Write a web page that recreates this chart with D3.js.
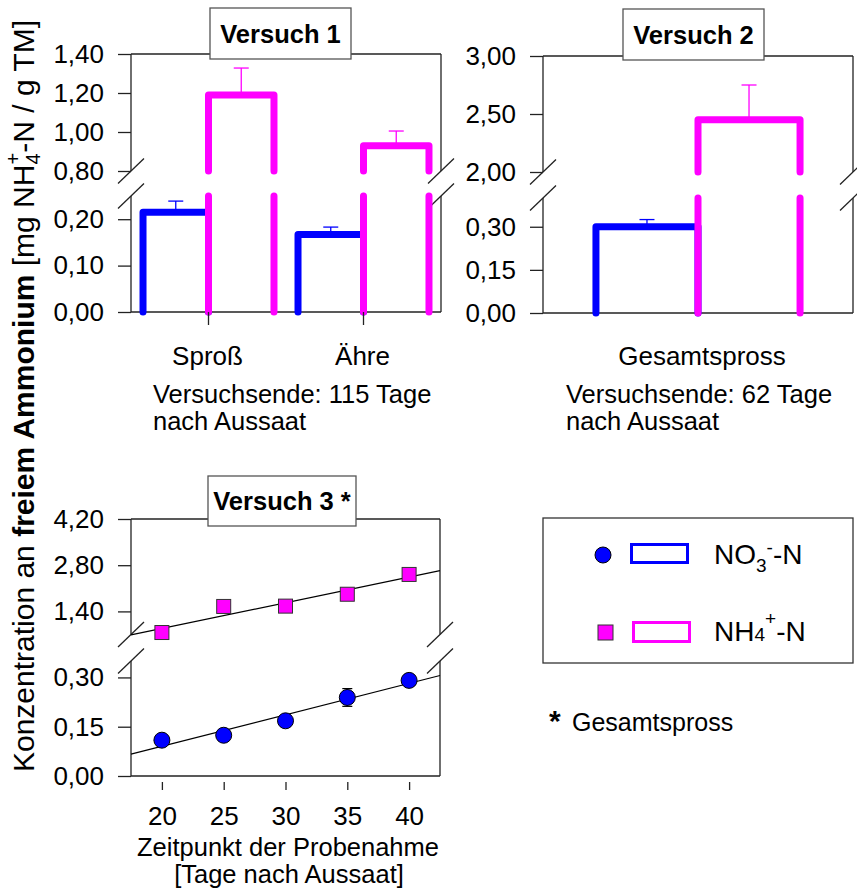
<!DOCTYPE html>
<html>
<head>
<meta charset="utf-8">
<script src="https://cdn.jsdelivr.net/npm/d3@7"></script>
<style>
  body { margin: 0; background: #fff; }
  svg text { font-family: "Liberation Sans", Arial, sans-serif; fill: #000; }
</style>
</head>
<body>
<svg id="chart" width="857" height="892"></svg>
<script>
// ---- data ----
const seriesKeys = ["NO3", "NH4"];

// Versuch 1
const v1Parts = ["Sproß", "Ähre"];
const v1NO3 = [0.215, 0.167];
const v1NO3Err = [0.024, 0.016];
const v1NH4 = [1.19, 0.93];
const v1NH4Err = [0.138, 0.075];
const v1TicksUpper = [0.80, 1.00, 1.20, 1.40];
const v1TicksLower = [0.00, 0.10, 0.20];

// Versuch 2
const v2Parts = ["Gesamtspross"];
const v2NO3 = [0.30];
const v2NO3Err = [0.025];
const v2NH4 = [2.45];
const v2NH4Err = [0.30];
const v2TicksUpper = [2.00, 2.50, 3.00];
const v2TicksLower = [0.00, 0.15, 0.30];

// Versuch 3
const v3Days = [20, 25, 30, 35, 40];
const v3NO3 = [0.109, 0.124, 0.168, 0.239, 0.291];
const v3NO3Err = [0.006, 0.008, 0.008, 0.027, 0.018];
const v3NH4 = [0.76, 1.55, 1.56, 1.92, 2.52];
const v3NH4Err = [0.05, 0.06, 0.05, 0.08, 0.06];
const v3TicksUpper = [1.40, 2.80, 4.20];
const v3TicksLower = [0.00, 0.15, 0.30];

const colors = { NO3: "#0000ff", NH4: "#ff00ff" };
const FS = 26;

const locale = d3.formatLocale({ decimal: ",", thousands: ".", grouping: [3], currency: ["", " €"] });
const fmt2 = locale.format(".2f");

const svg = d3.select("#chart");

// ---- helpers ----
function brokenFrame(p) {
  const g = svg.append("g").attr("stroke", "#222").attr("stroke-width", 1.3).attr("fill", "none");
  const yUpBot = p.upper.range()[0], yLowTop = p.lower.range()[1];
  g.append("line").attr("x1", p.left).attr("x2", p.right).attr("y1", p.top).attr("y2", p.top);
  g.append("line").attr("x1", p.left).attr("x2", p.right).attr("y1", p.bottom).attr("y2", p.bottom);
  [p.left, p.right].forEach(x => {
    g.append("line").attr("x1", x).attr("x2", x).attr("y1", p.top).attr("y2", yUpBot);
    g.append("line").attr("x1", x).attr("x2", x).attr("y1", yLowTop).attr("y2", p.bottom);
    [yUpBot, yLowTop].forEach(y => {
      g.append("line")
        .attr("x1", x - 13).attr("y1", y + 12.5)
        .attr("x2", x + 13).attr("y2", y - 12.5);
    });
  });
}

function yAxes(p, ticksUp, ticksLow) {
  [[p.upper, ticksUp], [p.lower, ticksLow]].forEach(([sc, tv]) => {
    const ax = svg.append("g")
      .attr("transform", `translate(${p.left},0)`)
      .call(d3.axisLeft(sc).tickValues(tv).tickSize(13).tickPadding(14).tickFormat(fmt2));
    ax.select(".domain").remove();
    ax.selectAll("line").attr("stroke", "#222").attr("stroke-width", 1.3);
    ax.selectAll("text").attr("font-size", FS).attr("font-family", "Liberation Sans, Arial, sans-serif");
  });
}

function titleBox(x0, x1, y0, y1, label) {
  svg.append("rect")
    .attr("x", x0).attr("y", y0).attr("width", x1 - x0).attr("height", y1 - y0)
    .attr("fill", "#fff").attr("stroke", "#555").attr("stroke-width", 1.3);
  svg.append("text")
    .attr("x", (x0 + x1) / 2).attr("y", y1 - 16)
    .attr("text-anchor", "middle")
    .attr("font-size", 25.5).attr("font-weight", "bold")
    .text(label);
}

// open bar drawn per axis segment
function barPath(xl, xr, v, sc) {
  const [d0, d1] = sc.domain();
  if (v <= d0) return null;
  const yb = sc(d0);
  if (v >= d1) {
    const yt = sc(d1);
    return `M${xl},${yb}V${yt}M${xr},${yb}V${yt}`;
  }
  const yv = sc(v);
  return `M${xl},${yb}V${yv}H${xr}V${yb}`;
}

function barPanel(p, parts, vals, errs) {
  const x0 = d3.scaleBand().domain(parts).range([p.left, p.right])
    .paddingInner(p.pad).paddingOuter(p.padOuter);
  const x1 = d3.scaleBand().domain(seriesKeys).range([0, x0.bandwidth()]);

  const rows = [];
  parts.forEach((c, i) => seriesKeys.forEach(k => {
    rows.push({ cat: c, key: k, v: vals[k][i], e: errs[k][i] });
  }));

  // error bars
  rows.forEach(d => {
    const sc = d.v > p.upper.domain()[0] ? p.upper : p.lower;
    const cx = x0(d.cat) + x1(d.key) + x1.bandwidth() / 2;
    const g = svg.append("g").attr("stroke", colors[d.key]).attr("stroke-width", 1.3);
    g.append("line").attr("x1", cx).attr("x2", cx).attr("y1", sc(d.v)).attr("y2", sc(d.v + d.e));
    g.append("line").attr("x1", cx - 7.5).attr("x2", cx + 7.5).attr("y1", sc(d.v + d.e)).attr("y2", sc(d.v + d.e));
  });

  // bars (NO3 first so NH4 sits on top)
  seriesKeys.forEach(k => {
    rows.filter(d => d.key === k).forEach(d => {
      const xl = x0(d.cat) + x1(d.key), xr = xl + x1.bandwidth();
      [p.lower, p.upper].forEach(sc => {
        const path = barPath(xl, xr, d.v, sc);
        if (path) {
          svg.append("path").attr("d", path)
            .attr("fill", "none").attr("stroke", colors[k]).attr("stroke-width", 7)
            .attr("stroke-linecap", "round").attr("stroke-linejoin", "round");
        }
      });
    });
  });
  return x0;
}

// ---- Versuch 1 ----
const p1 = {
  left: 131, right: 441, top: 54, bottom: 312, pad: 0.155, padOuter: 0.0775,
  upper: d3.scaleLinear().domain([0.80, 1.40]).range([171, 54]),
  lower: d3.scaleLinear().domain([0, 0.25]).range([312, 196])
};
brokenFrame(p1);
yAxes(p1, v1TicksUpper, v1TicksLower);
const x1Band = barPanel(p1, v1Parts, { NO3: v1NO3, NH4: v1NH4 }, { NO3: v1NO3Err, NH4: v1NH4Err });
const xa1 = svg.append("g").attr("transform", `translate(-1,${p1.bottom})`)
  .call(d3.axisBottom(x1Band).tickSize(13).tickPadding(22));
xa1.select(".domain").remove();
xa1.selectAll("line").attr("stroke", "#222").attr("stroke-width", 1.3).attr("transform", "translate(1,0)");
xa1.selectAll("text").attr("font-size", FS).attr("font-family", "Liberation Sans, Arial, sans-serif");
titleBox(210, 351, 8, 59, "Versuch 1");

svg.append("text").attr("x", 153).attr("y", 403).attr("font-size", 25.5).text("Versuchsende: 115 Tage");
svg.append("text").attr("x", 153).attr("y", 430).attr("font-size", 25.5).text("nach Aussaat");

// ---- Versuch 2 ----
const p2 = {
  left: 543, right: 853, top: 56, bottom: 313, pad: 0.206, padOuter: 0.206,
  upper: d3.scaleLinear().domain([2.00, 3.00]).range([172, 56]),
  lower: d3.scaleLinear().domain([0, 0.40]).range([313, 198])
};
brokenFrame(p2);
yAxes(p2, v2TicksUpper, v2TicksLower);
const x2Band = barPanel(p2, v2Parts, { NO3: v2NO3, NH4: v2NH4 }, { NO3: v2NO3Err, NH4: v2NH4Err });
const xa2 = svg.append("g").attr("transform", `translate(4,${p2.bottom})`)
  .call(d3.axisBottom(x2Band).tickSize(0).tickPadding(34));
xa2.select(".domain").remove();
xa2.selectAll("text").attr("font-size", FS).attr("font-family", "Liberation Sans, Arial, sans-serif");
titleBox(623, 764, 9, 60, "Versuch 2");

svg.append("text").attr("x", 566).attr("y", 403).attr("font-size", 25.5).text("Versuchsende: 62 Tage");
svg.append("text").attr("x", 566).attr("y", 430).attr("font-size", 25.5).text("nach Aussaat");

// ---- Versuch 3 ----
const p3 = {
  left: 131, right: 440, top: 519, bottom: 776,
  upper: d3.scaleLinear().domain([0.70, 4.20]).range([634.5, 519]),
  lower: d3.scaleLinear().domain([0, 0.35]).range([776, 661])
};
const x3 = d3.scaleLinear().domain([17.5, 42.5]).range([p3.left, p3.right]);
brokenFrame(p3);
yAxes(p3, v3TicksUpper, v3TicksLower);

const xa3 = svg.append("g").attr("transform", `translate(0,${p3.bottom + 6})`)
  .call(d3.axisBottom(x3).tickValues(v3Days).tickSize(8).tickPadding(17));
xa3.select(".domain").remove();
xa3.selectAll("line").attr("stroke", "#222").attr("stroke-width", 1.3);
xa3.selectAll("text").attr("font-size", FS).attr("font-family", "Liberation Sans, Arial, sans-serif");

// least-squares lines through each series
function fitLine(xs, ys) {
  const mx = d3.mean(xs), my = d3.mean(ys);
  const b = d3.sum(xs, (x, i) => (x - mx) * (ys[i] - my)) / d3.sum(xs, x => (x - mx) ** 2);
  return x => my + b * (x - mx);
}
const line3 = svg.append("g").attr("stroke", "#000").attr("stroke-width", 1.2);
[[v3NO3, p3.lower], [v3NH4, p3.upper]].forEach(([ys, sc]) => {
  const f = fitLine(v3Days, ys);
  const [a, b] = x3.domain();
  line3.append("line")
    .attr("x1", x3(a)).attr("y1", sc(f(a)))
    .attr("x2", x3(b)).attr("y2", sc(f(b)));
});

// error bars
const err3 = svg.append("g").attr("stroke", "#000").attr("stroke-width", 1.2);
v3Days.forEach((d, i) => {
  [[v3NO3[i], v3NO3Err[i], p3.lower], [v3NH4[i], v3NH4Err[i], p3.upper]].forEach(([v, e, sc]) => {
    const cx = x3(d);
    err3.append("line").attr("x1", cx).attr("x2", cx).attr("y1", sc(v - e)).attr("y2", sc(v + e));
    [v - e, v + e].forEach(y => err3.append("line")
      .attr("x1", cx - 5).attr("x2", cx + 5).attr("y1", sc(y)).attr("y2", sc(y)));
  });
});

svg.append("g").selectAll("circle").data(v3Days).join("circle")
  .attr("cx", d => x3(d)).attr("cy", (d, i) => p3.lower(v3NO3[i])).attr("r", 8)
  .attr("fill", colors.NO3).attr("stroke", "#000").attr("stroke-width", 1);
svg.append("g").selectAll("rect").data(v3Days).join("rect")
  .attr("x", d => x3(d) - 7).attr("y", (d, i) => p3.upper(v3NH4[i]) - 7)
  .attr("width", 14).attr("height", 14)
  .attr("fill", colors.NH4).attr("stroke", "#333").attr("stroke-width", 1);

titleBox(208, 356, 476, 526, "Versuch 3 *");

svg.append("text").attr("x", 288).attr("y", 856).attr("text-anchor", "middle")
  .attr("font-size", 25.5).text("Zeitpunkt der Probenahme");
svg.append("text").attr("x", 289).attr("y", 883).attr("text-anchor", "middle")
  .attr("font-size", 25.5).text("[Tage nach Aussaat]");

// ---- y axis title ----
const yt = svg.append("text")
  .attr("transform", "translate(34,396) rotate(-90)")
  .attr("text-anchor", "middle").attr("font-size", 30);
yt.append("tspan").text("Konzentration an ");
yt.append("tspan").attr("font-weight", "bold").text("freiem Ammonium");
yt.append("tspan").text(" [mg NH");
yt.append("tspan").attr("font-size", 20).attr("dy", 6).text("4");
yt.append("tspan").attr("font-size", 20).attr("dx", -11).attr("dy", -20).text("+");
yt.append("tspan").attr("dy", 14).text("-N / g TM]");

// ---- legend ----
svg.append("rect").attr("x", 543).attr("y", 518).attr("width", 310).attr("height", 145)
  .attr("fill", "#fff").attr("stroke", "#333").attr("stroke-width", 1.3);
svg.append("circle").attr("cx", 603).attr("cy", 555).attr("r", 8)
  .attr("fill", colors.NO3).attr("stroke", "#000").attr("stroke-width", 1);
svg.append("rect").attr("x", 631.5).attr("y", 544.5).attr("width", 56).attr("height", 18)
  .attr("fill", "none").attr("stroke", colors.NO3).attr("stroke-width", 3);
const l1 = svg.append("text").attr("x", 714).attr("y", 564).attr("font-size", 28);
l1.append("tspan").text("NO");
l1.append("tspan").attr("font-size", 19).attr("dy", 8).text("3");
l1.append("tspan").attr("font-size", 19).attr("dy", -18).text("-");
l1.append("tspan").attr("dy", 10).text("-N");

svg.append("rect").attr("x", 598).attr("y", 625).attr("width", 15).attr("height", 15)
  .attr("fill", colors.NH4).attr("stroke", "#333").attr("stroke-width", 1);
svg.append("rect").attr("x", 633.5).attr("y", 622.5).attr("width", 56).attr("height", 19)
  .attr("fill", "none").attr("stroke", colors.NH4).attr("stroke-width", 3);
const l2 = svg.append("text").attr("x", 714).attr("y", 641).attr("font-size", 28);
l2.append("tspan").text("NH");
l2.append("tspan").attr("font-size", 19).text("4");
l2.append("tspan").attr("font-size", 19).attr("dy", -16).text("+");
l2.append("tspan").attr("dy", 16).text("-N");

svg.append("text").attr("x", 549).attr("y", 731).attr("font-size", 30).attr("font-weight", "bold").text("*");
svg.append("text").attr("x", 572).attr("y", 731).attr("font-size", 25).text("Gesamtspross");
</script>
</body>
</html>
